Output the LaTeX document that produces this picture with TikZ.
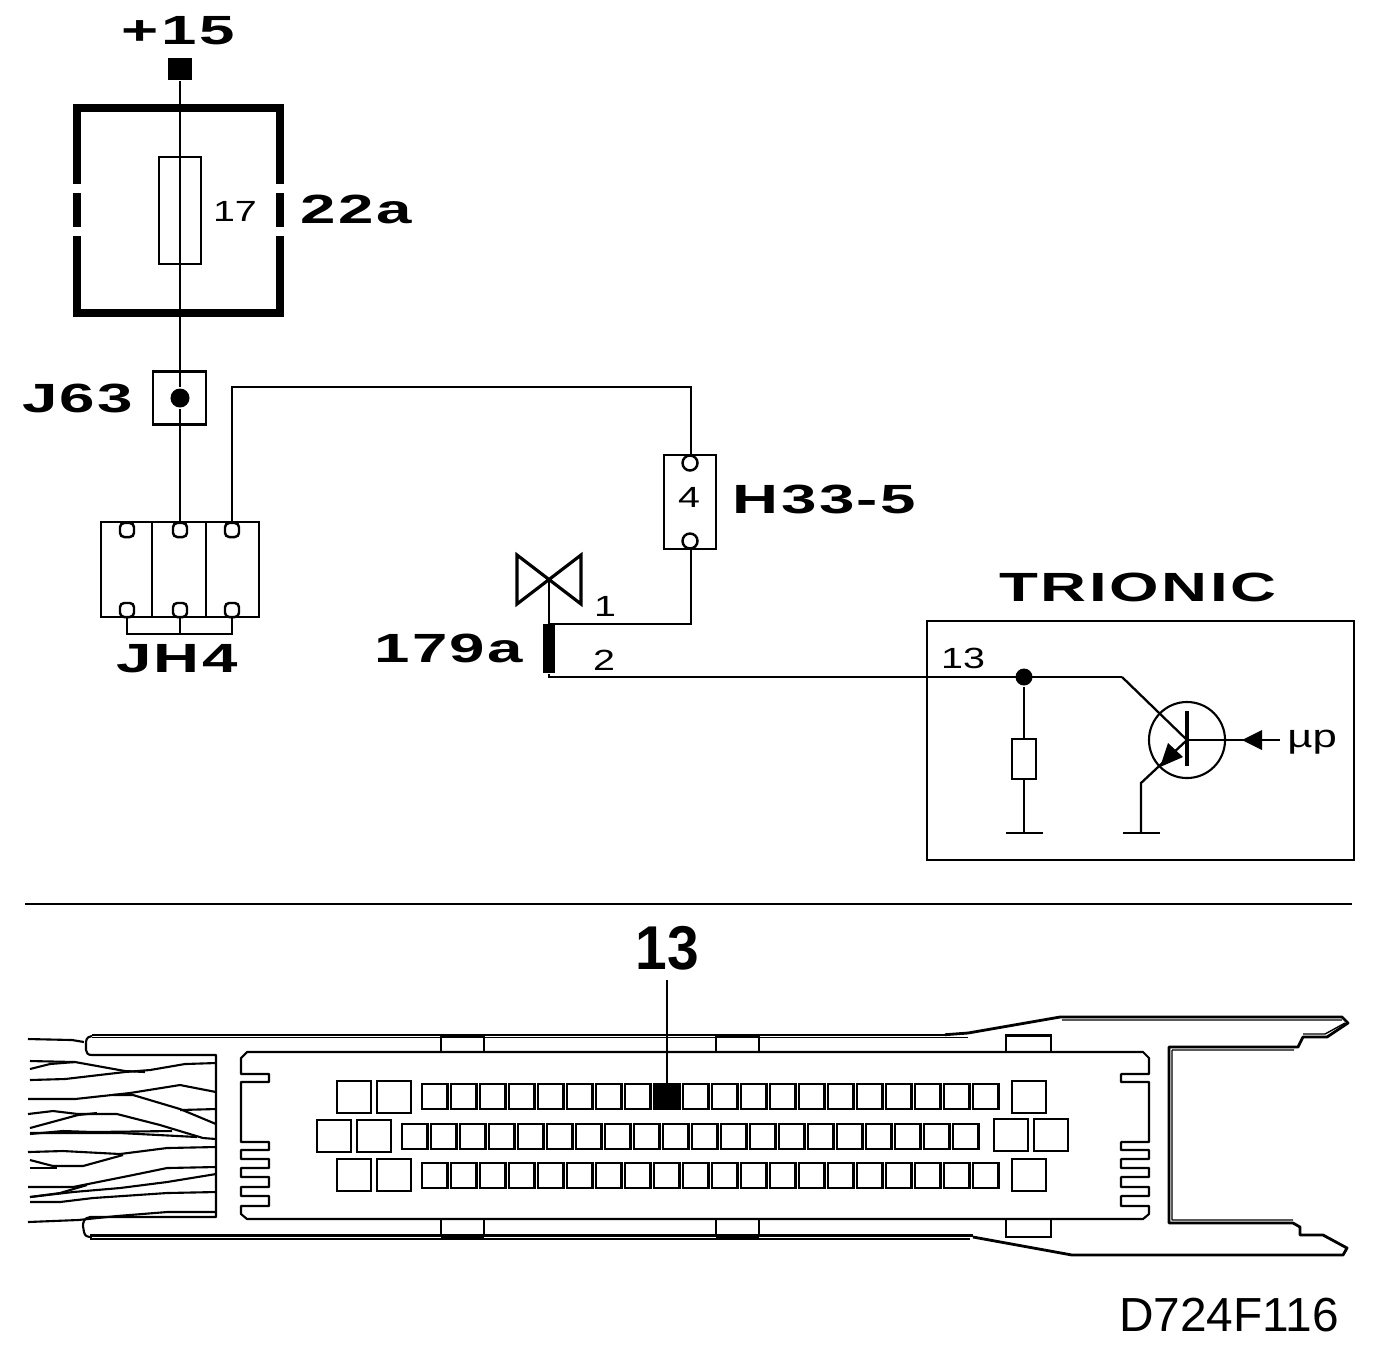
\documentclass[tikz,border=0pt]{standalone}
\usepackage{fontspec}
\setmainfont{Liberation Sans}
\newfontfamily\plateFont[LetterSpace=4]{Liberation Sans}
\usetikzlibrary{positioning}
\tikzset{
    % labels of the plan are printed wide
    bigLabel/.style={font=\plateFont\bfseries\fontsize{11.6}{12}\selectfont, xscale=1.56, transform shape, inner sep=0pt},
    smallLabel/.style={font=\fontsize{8.3}{9}\selectfont, xscale=1.35, transform shape, inner sep=0pt},
    box/.style={draw, fill=white, line width=0.6pt, minimum width=#1, inner sep=0pt},
    pin/.style={draw, fill=white, rounded corners=1.2pt, line width=0.7pt, minimum size=0.14cm, inner sep=0pt},
    dot/.style={circle, fill=black, minimum size=0.17cm, inner sep=0pt},
    wire/.style={line width=0.65pt},
    strand/.style={line width=0.6pt, line join=round}
}
\begin{document}
\begin{tikzpicture}[x=0.01cm, y=-0.01cm, line width=0.6pt]

    \useasboundingbox (0,0) rectangle (1392,1354);

    % --- upper plan: fuse and splices ---
    \node[bigLabel] (plusLabel) at (178,31) {+15};
    \node[fill=black, minimum width=0.24cm, minimum height=0.22cm, inner sep=0pt] (term) at (180,69) {};

    \draw[line width=2.3pt] (77,184) -- (77,108) -- (280,108) -- (280,184);
    \draw[line width=2.3pt] (77,236) -- (77,313) -- (280,313) -- (280,236);
    \draw[line width=2.3pt] (77,193) -- (77,227) (280,193) -- (280,227);

    \node[box=0.42cm, minimum height=1.07cm] (fuse) at (180,210.5) {};
    \node[smallLabel] (fuseNo) at (235,211) {17};
    \node[bigLabel, anchor=west] (fuseBox) at (299,209) {22a};

    \node[box=0.53cm, minimum height=0.53cm, line width=0.8pt] (jSix) at (179.5,398) {};
    \node[dot, minimum size=0.19cm] (jDot) at (180,398) {};
    \node[bigLabel, anchor=east] (jLabel) at (135,398) {J63};

    % splice block
    \node[box=1.58cm, minimum height=0.95cm, line width=0.8pt] (block) at (180,569.5) {};
    \draw (152,522) -- (152,617) (206,522) -- (206,617);
    \foreach \i/\px in {a/127, b/180, c/232} {
        \node[pin] (top\i) at (\px,530) {};
        \node[pin] (bot\i) at (\px,610) {};
    }
    \coordinate (busA) at (127,634);
    \coordinate (busC) at (232,634);
    \draw[wire, line width=0.8pt] (bota) -- (busA) -- (busC) -- (botc);
    \draw[wire] (botb) -- (180,634);
    \node[bigLabel] (blockLabel) at (177,659) {JH4};

    \draw[wire] (term) -- (jDot) -- (topb.north);
    \coordinate (bendA) at (232,387);
    \coordinate (bendB) at (691,387);

    % connector H33-5
    \node[box=0.52cm, minimum height=0.94cm, line width=0.8pt] (hBox) at (690,502) {};
    \node[pin, circle, minimum size=0.15cm] (hTop) at (690,463) {};
    \node[pin, circle, minimum size=0.15cm] (hBot) at (690,541) {};
    \node[smallLabel] (hNo) at (689,497) {4};
    \node[bigLabel, anchor=west] (hLabel) at (731,499) {H33-5};
    \draw[wire] (topc.north) -- (bendA) -- (bendB) -- (hBox.north -| bendB);

    % ground point 179a
    \draw[line width=0.9pt] (517,555) -- (581,604) -- (581,555) -- (517,604) -- cycle;
    \coordinate (bow) at (549,579.5);
    \node[fill=black, minimum width=0.12cm, minimum height=0.49cm, inner sep=0pt] (bar) at (549,648.5) {};
    \node[bigLabel, anchor=east] (barLabel) at (525,648) {179a};
    \node[smallLabel] (barOne) at (605,606) {1};
    \node[smallLabel] (barTwo) at (604,660) {2};
    \coordinate (upLeft) at (549,624);
    \coordinate (upRight) at (691,624);
    \coordinate (lowLeft) at (549,677);
    \coordinate (knee) at (1122,677);
    \draw[wire] (bow) -- (upLeft) -- (upRight) -- (hBox.south -| upRight);
    \draw[wire] (bar) -- (lowLeft) -- (knee);

    % --- control unit ---
    \node[bigLabel] (unitLabel) at (1138,587) {TRIONIC};
    \draw[line width=0.7pt] (927,621) rectangle (1354,860);
    \node[smallLabel] (unitNo) at (963,658) {13};

    \node[dot] (node13) at (1024,677) {};
    \node[box=0.24cm, minimum height=0.4cm] (res) at (1024,759) {};
    \coordinate (gndA) at (1024,833);
    \draw[wire] (node13) -- (res) -- (gndA);
    \draw[wire] (1006,833) -- (1043,833);

    \node[circle, draw, line width=0.6pt, minimum size=0.76cm, inner sep=0pt] (tran) at (1187,740) {};
    \draw[line width=1pt] (1187,711) -- (1187,766);
    \coordinate (base) at (1187,740);
    \coordinate (collector) at (1141,783);
    \coordinate (gndB) at (1141,833);
    \draw[wire] (knee) -- (base) -- (collector) -- (gndB);
    \draw[wire] (1123,833) -- (1160,833);
    \fill (1168,743) -- (1183,757) -- (1160,767) -- cycle;

    \coordinate (inLine) at (1280,740);
    \draw[wire] (base) -- (inLine);
    \fill (1242,740) -- (1262,730) -- (1262,750) -- cycle;
    \node[smallLabel, anchor=west, font=\fontsize{9.2}{10}\selectfont] (inLabel) at (1286,742) {µp};

    % --- divider ---
    \draw[line width=0.6pt] (25,904) -- (1352,904);

    % --- connector seen from the front ---
    \node[font=\bfseries\fontsize{17.6}{18}\selectfont, xscale=0.92, transform shape, inner sep=0pt] (pinNo) at (667,948) {13};

    % housing, long edges
    \draw[line width=0.6pt, line join=round]
        (92,1036) .. controls (86,1037) and (86,1040) .. (86,1045) -- (86,1050)
        .. controls (86,1053) and (88,1055) .. (92,1055) -- (216,1055) -- (216,1217) -- (90,1217)
        .. controls (84,1218) and (83,1222) .. (83,1226) -- (84,1232) .. controls (85,1236) and (87,1237) .. (92,1237);
    \draw[line width=0.55pt] (92,1034.7) -- (945,1034.7) (92,1037.5) -- (968,1037.5);
    \draw[line width=0.8pt] (90,1235.5) -- (973,1235.5);
    \draw[line width=0.5pt] (90,1239) -- (970,1239);
    \draw[line width=0.8pt, line join=round] (945,1034.7) -- (968,1033) -- (1060,1017) -- (1342,1017) -- (1348,1023)
        -- (1327,1037) -- (1303,1037) -- (1298,1047) -- (1169,1047) -- (1169,1223) -- (1293,1223)
        -- (1300,1227) -- (1300,1235) -- (1323,1235) -- (1347,1248) -- (1343,1255) -- (1072,1255) -- (973,1237);
    \draw[line width=0.4pt, line join=round] (1062,1020) -- (1342,1020) (1172,1050) -- (1294,1050) (1172,1050) -- (1172,1220) -- (1293,1220)
        (1303,1034) -- (1325,1034) -- (1345,1023);

    % inner plate with its notches
    \draw[line width=0.6pt, line join=round]
        (247,1052) -- (1143,1052) -- (1149,1058) -- (1149,1074) -- (1121,1074) -- (1121,1082) -- (1149,1082) -- (1149,1142)
        -- (1121,1142) -- (1121,1150) -- (1149,1150) -- (1149,1159)
        -- (1121,1159) -- (1121,1168) -- (1149,1168) -- (1149,1177)
        -- (1121,1177) -- (1121,1187) -- (1149,1187) -- (1149,1196)
        -- (1121,1196) -- (1121,1206) -- (1149,1206) -- (1149,1214) -- (1143,1219) -- (247,1219) -- (241,1214) -- (241,1206)
        -- (269,1206) -- (269,1196) -- (241,1196) -- (241,1187)
        -- (269,1187) -- (269,1177) -- (241,1177) -- (241,1168)
        -- (269,1168) -- (269,1159) -- (241,1159) -- (241,1150)
        -- (269,1150) -- (269,1142) -- (241,1142) -- (241,1082)
        -- (269,1082) -- (269,1074) -- (241,1074) -- (241,1058) -- cycle;

    % locking tabs
    \foreach \xa/\xb in {441/484, 716/759} {
        \draw[line width=0.6pt] (\xa,1052) -- (\xa,1035) (\xb,1035) -- (\xb,1052);
        \draw[line width=0.6pt] (\xa,1219) -- (\xa,1237) (\xb,1237) -- (\xb,1219);
        \fill (\xa,1034) rectangle (\xb,1037.5);
        \fill (\xa,1234.5) rectangle (\xb,1238.5);
    }
    \draw[line width=0.7pt] (1006,1052) -- (1006,1035.5) -- (1051,1035.5) -- (1051,1052);
    \draw[line width=0.7pt] (1006,1219) -- (1006,1237) -- (1051,1237) -- (1051,1219);

    % contact rows
    \foreach \px/\py in {422/1084, 402/1124, 422/1163} {
        \foreach \i in {0,...,19} {
            \draw[line width=0.6pt] ({\px+29*\i},\py) rectangle ++(25.5,25);
        }
    }
    \foreach \px/\py in {337/1081, 377/1081, 1012/1081, 317/1120, 357/1120, 994/1119, 1034/1119, 337/1159, 377/1159, 1012/1159} {
        \draw[line width=0.75pt] (\px,\py) rectangle ++(34,32);
    }
    \node[fill=black, draw, minimum width=0.25cm, minimum height=0.25cm, inner sep=0pt] (pinThirteen) at (667,1096.5) {};
    \draw[wire] (pinNo.south |- 0,980) -- (pinThirteen);

    % cable strands
    \foreach \pts in {
        {(28,1039) -- (72,1040) -- (84,1042)},
        {(30,1080) -- (65,1079) -- (125,1072) -- (150,1070) -- (185,1064) -- (216,1063)},
        {(30,1061) -- (75,1062) -- (125,1071) -- (145,1072)},
        {(30,1069) -- (50,1064) -- (75,1062)},
        {(28,1099) -- (75,1099) -- (130,1093) -- (180,1085) -- (216,1092)},
        {(113,1095) -- (133,1095) -- (180,1109) -- (216,1124)},
        {(180,1110) -- (216,1109)},
        {(28,1114) -- (53,1111) -- (78,1114) -- (117,1114) -- (160,1125) -- (203,1138) -- (216,1139)},
        {(30,1128) -- (78,1115) -- (97,1113)},
        {(30,1134) -- (63,1131) -- (93,1132) -- (172,1131)},
        {(30,1133) -- (120,1133) -- (197,1137)},
        {(28,1152) -- (63,1151) -- (120,1154) -- (167,1148) -- (216,1147)},
        {(30,1160) -- (53,1166) -- (83,1166) -- (123,1155)},
        {(30,1168) -- (57,1168)},
        {(28,1187) -- (73,1187) -- (133,1175) -- (167,1168) -- (216,1167)},
        {(30,1197) -- (73,1192) -- (120,1188) -- (167,1182) -- (216,1174)},
        {(30,1202) -- (60,1202) -- (93,1198) -- (167,1193) -- (216,1192)},
        {(30,1197) -- (60,1193) -- (87,1185)},
        {(28,1222) -- (78,1220) -- (117,1216) -- (167,1212) -- (216,1212)}
    } {
        \draw[strand] \pts;
    }

    \node[font=\fontsize{13.6}{14}\selectfont, inner sep=0pt] (drawingNo) at (1229,1315) {D724F116};

\end{tikzpicture}
\end{document}
